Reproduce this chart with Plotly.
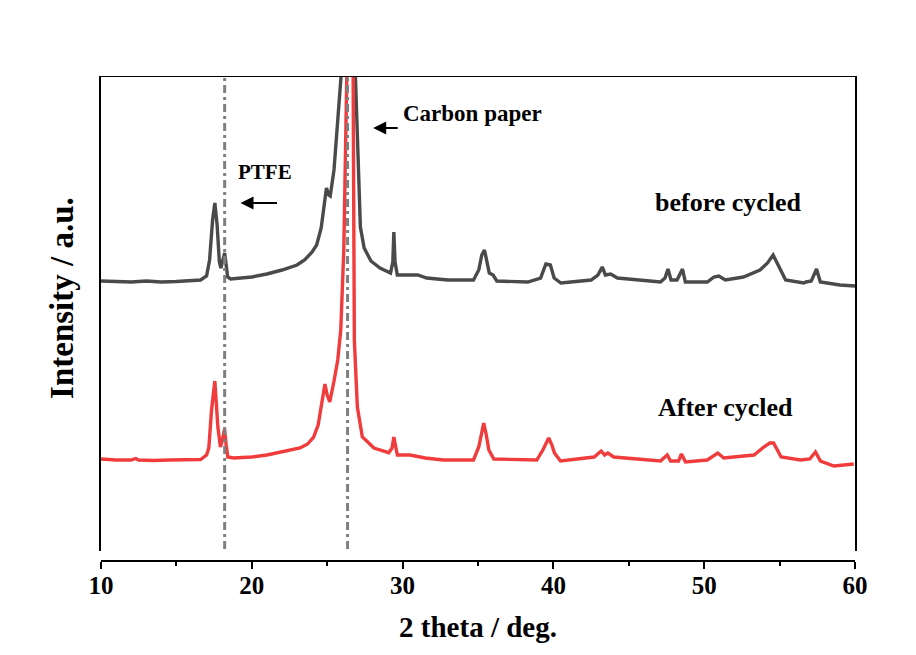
import plotly.graph_objects as go

# ---- data ----
before_x = [10.0, 11.0, 12.0, 13.0, 14.0, 15.0, 16.0, 16.6, 17.0, 17.2, 17.4, 17.55, 17.7, 17.85,
            17.95, 18.05, 18.2, 18.3, 18.4, 18.6, 19.0, 20.0, 21.0, 22.0, 23.0, 23.5, 24.0, 24.3,
            24.6, 24.8, 24.95, 25.1, 25.2, 25.45, 25.7, 25.93, 26.1, 26.4, 26.7, 26.88, 27.05, 27.2,
            27.45, 27.9, 28.5, 29.2, 29.35, 29.42, 29.5, 29.65, 31.0, 31.6, 33.0, 34.7, 35.05, 35.25,
            35.43, 35.6, 35.75, 36.0, 36.25, 38.3, 39.15, 39.5, 39.8, 40.05, 40.5, 42.5, 42.95, 43.24,
            43.45, 43.8, 44.25, 47.1, 47.4, 47.6, 47.8, 48.2, 48.4, 48.56, 48.75, 50.2, 50.65, 50.97,
            51.4, 52.6, 53.7, 54.2, 54.57, 54.95, 55.4, 56.6, 56.75, 57.1, 57.45, 57.7, 58.2, 59.0, 60.0]
before_y = [2700, 2695, 2690, 2700, 2690, 2695, 2700, 2710, 2750, 2910, 3310, 3480, 3260, 2890,
            2830, 2890, 2980, 2860, 2740, 2720, 2725, 2740, 2770, 2810, 2860, 2910, 2990, 3060,
            3230, 3480, 3630, 3560, 3550, 3810, 4260, 4710, 5110, 7510, 5310, 4710, 3910, 3240,
            3030, 2900, 2830, 2780, 2890, 3190, 2890, 2760, 2760, 2730, 2710, 2710, 2810, 2960,
            3010, 2890, 2780, 2760, 2700, 2690, 2730, 2870, 2860, 2730, 2680, 2710, 2760, 2840,
            2760, 2770, 2730, 2690, 2730, 2820, 2710, 2710, 2770, 2820, 2690, 2690, 2740, 2750,
            2710, 2740, 2810, 2880, 2960, 2840, 2710, 2680, 2690, 2700, 2820, 2690, 2680, 2660, 2650]

after_x = [10.0, 11.0, 12.0, 12.3, 12.5, 13.5, 14.5, 15.5, 16.6, 17.0, 17.15, 17.33, 17.55, 17.75,
           17.92, 18.05, 18.19, 18.3, 18.41, 18.8, 20.0, 21.0, 22.0, 23.2, 23.7, 24.1, 24.4, 24.6,
           24.85, 25.0, 25.17, 25.44, 25.7, 25.9, 26.1, 26.3, 26.5, 26.72, 26.8, 27.0, 27.33, 27.55,
           28.1, 29.08, 29.3, 29.42, 29.55, 29.65, 30.5, 31.5, 32.7, 34.7, 35.05, 35.25, 35.38, 35.55,
           35.72, 36.05, 38.9, 39.3, 39.69, 39.9, 40.07, 40.47, 42.7, 43.17, 43.4, 43.61, 44.0, 47.1,
           47.55, 47.77, 48.3, 48.49, 48.76, 50.2, 50.64, 50.9, 51.3, 53.3, 53.95, 54.35, 54.6, 55.1,
           56.4, 57.0, 57.38, 57.71, 58.6, 59.2, 59.92]
after_y = [920, 910, 910, 925, 910, 905, 910, 910, 915, 960, 1030, 1410, 1700, 1240,
           1040, 1110, 1220, 1060, 940, 930, 940, 960, 990, 1030, 1070, 1140, 1260, 1460,
           1670, 1560, 1490, 1690, 1910, 2210, 3010, 4750, 8510, 4750, 2110, 1440, 1140, 1110,
           1030, 983, 1030, 1140, 1030, 960, 960, 930, 910, 910, 1040, 1210, 1280, 1160,
           1010, 920, 910, 1010, 1130, 1060, 980, 900, 940, 1000, 960, 980, 940, 900,
           960, 900, 900, 970, 890, 910, 950, 980, 930, 960, 1040, 1080, 1080, 940,
           910, 920, 990, 900, 850, 860, 870]

ref_lines_x = [18.2, 26.35]          # PTFE and carbon paper reference positions
x_ticks = [10, 20, 30, 40, 50, 60]

labels = ["before cycled", "After cycled"]
label_x = [51.6, 51.4]
label_y = [3490, 1440]

ptfe_text = ("PTFE", 20.9, 3790)
ptfe_arrow = (19.25, 3480)
carbon_text = ("Carbon paper", 34.65, 4380)
carbon_arrow = (28.05, 4230)

Y_MAX = 4750

fig = go.Figure()
fig.add_trace(go.Scatter(x=before_x, y=before_y, mode="lines",
                         line=dict(color="#4a4a4a", width=3.4), name=labels[0]))
fig.add_trace(go.Scatter(x=after_x, y=after_y, mode="lines",
                         line=dict(color="#f03c3c", width=3.4), name=labels[1]))

for xv in ref_lines_x:
    fig.add_shape(type="line", xref="x", yref="y", x0=xv, x1=xv, y0=20, y1=Y_MAX,
                  line=dict(color="#7f7f7f", width=3, dash="8px,4px,3px,4px"), layer="above")

# top border of the box
fig.add_shape(type="line", xref="paper", yref="y", x0=0, x1=1, y0=Y_MAX, y1=Y_MAX,
              line=dict(color="black", width=2))

serif = "Liberation Serif, Times New Roman, serif"
for t, xv, yv in zip(labels, label_x, label_y):
    fig.add_annotation(x=xv, y=yv, text="<b>%s</b>" % t, showarrow=False,
                       font=dict(family=serif, size=26, color="black"))

fig.add_annotation(x=ptfe_text[1], y=ptfe_text[2], text="<b>%s</b>" % ptfe_text[0],
                   showarrow=False, font=dict(family=serif, size=21, color="black"))
fig.add_annotation(x=carbon_text[1], y=carbon_text[2], text="<b>%s</b>" % carbon_text[0],
                   showarrow=False, font=dict(family=serif, size=23, color="black"))
fig.add_annotation(x=ptfe_arrow[0], y=ptfe_arrow[1], text="", showarrow=True,
                   ax=38, ay=0, arrowhead=2, arrowsize=1.3, arrowwidth=2, arrowcolor="black")
fig.add_annotation(x=carbon_arrow[0], y=carbon_arrow[1], text="", showarrow=True,
                   ax=26, ay=0, arrowhead=2, arrowsize=1.3, arrowwidth=2, arrowcolor="black")

# y-axis title placed as an annotation (paper coordinates)
fig.add_annotation(xref="paper", yref="paper", x=-0.052, y=0.542, text="<b>Intensity / a.u.</b>",
                   textangle=-90, showarrow=False, xanchor="center", yanchor="middle",
                   font=dict(family=serif, size=33, color="black"))

fig.update_layout(
    width=916, height=655,
    margin=dict(l=101, r=61, t=76, b=94),
    paper_bgcolor="white", plot_bgcolor="white",
    showlegend=False,
    font=dict(family=serif, color="black"),
    xaxis=dict(range=[10, 60], tickvals=x_ticks, ticks="outside", ticklen=7, tickwidth=2,
               tickcolor="black", showline=True, linecolor="black", linewidth=2,
               showgrid=False, zeroline=False, anchor="free", position=0,
               ticklabelstandoff=-5,
               minor=dict(ticks="outside", ticklen=4, tickwidth=2, tickcolor="black", dtick=5),
               tickfont=dict(family=serif, size=25, color="black", weight="bold"),
               title=dict(text="<b>2 theta / deg.</b>", standoff=18,
                          font=dict(family=serif, size=29, color="black"))),
    yaxis=dict(range=[0, Y_MAX], domain=[0.0206, 1], showticklabels=False, ticks="",
               showline=True, mirror=True, linecolor="black", linewidth=2,
               showgrid=False, zeroline=False),
)

fig.write_html("out.html")
